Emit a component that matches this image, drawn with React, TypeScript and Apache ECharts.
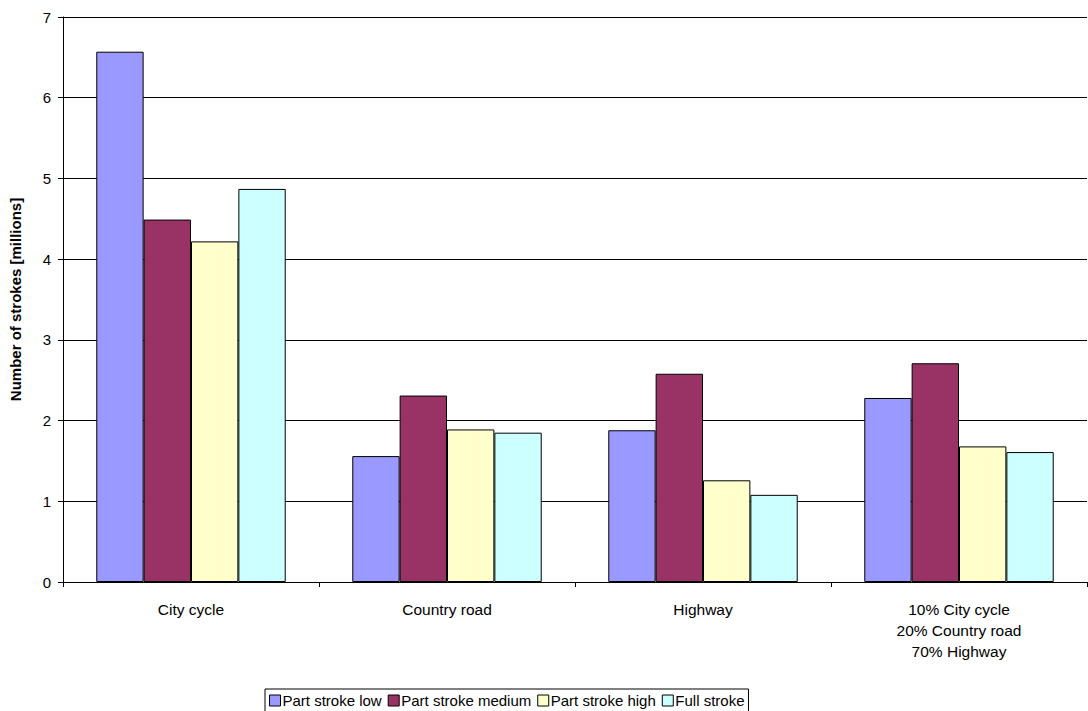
import React, { useEffect, useRef } from "react";
import * as echarts from "echarts";

const categories = ["City cycle", "Country road", "Highway", "10% City cycle\n20% Country road\n70% Highway"];
const seriesNames = ["Part stroke low", "Part stroke medium", "Part stroke high", "Full stroke"];
const colors = ["#9999FF", "#993366", "#FFFFCC", "#CCFFFF"];
const values = [
  [6.57, 1.56, 1.88, 2.28],
  [4.49, 2.31, 2.58, 2.71],
  [4.22, 1.89, 1.26, 1.68],
  [4.87, 1.85, 1.08, 1.61],
];

const App = () => {
  const ref = useRef<HTMLDivElement>(null);
  useEffect(() => {
    document.body.style.margin = "0";
    const chart = echarts.init(ref.current, null, { renderer: "svg" });
    const font = "Liberation Sans, Arial, sans-serif";
    chart.setOption({
      animation: false,
      textStyle: { fontFamily: font, color: "#000" },
      grid: { left: 62, right: 1, top: 17, bottom: 129 },
      legend: {
        bottom: -1,
        left: 265,
        itemWidth: 11,
        itemHeight: 11,
        itemGap: 6,
        borderColor: "#000",
        borderWidth: 1,
        padding: [4, 4],
        borderRadius: 0,
        textStyle: { fontSize: 15, fontFamily: font, color: "#000", padding: [0, 0, 0, -3] },
        data: seriesNames.map((n) => ({ name: n, icon: "rect", itemStyle: { borderColor: "#000", borderWidth: 1 } })),
      },
      xAxis: {
        type: "category",
        data: categories,
        axisLine: { lineStyle: { color: "#000" } },
        axisTick: { show: true, inside: false, length: 5, lineStyle: { color: "#000" } },
        axisLabel: { fontSize: 15.5, color: "#000", margin: 17, lineHeight: 21, fontFamily: font },
      },
      yAxis: {
        type: "value",
        min: 0,
        max: 7,
        interval: 1,
        name: "Number of strokes [millions]",
        nameLocation: "middle",
        nameGap: 40,
        nameTextStyle: { fontSize: 15, fontWeight: "bold", color: "#000", fontFamily: font },
        axisLine: { show: true, lineStyle: { color: "#000" } },
        axisTick: { show: true, length: 5, lineStyle: { color: "#000" } },
        axisLabel: { fontSize: 15, color: "#000", margin: 12, fontFamily: font },
        splitLine: { lineStyle: { color: "#000", width: 1 } },
      },
      series: seriesNames.map((n, i) => ({
        name: n,
        type: "bar",
        data: values[i],
        barGap: "0%",
        barCategoryGap: "26%",
        itemStyle: { color: colors[i], borderColor: "#000", borderWidth: 1 },
      })),
    });
    return () => chart.dispose();
  }, []);
  return <div ref={ref} style={{ width: 1088, height: 711 }} />;
};

export default App;
